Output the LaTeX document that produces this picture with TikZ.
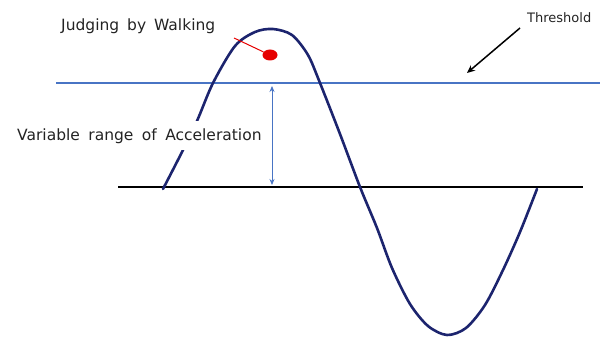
\documentclass[tikz,border=0pt]{standalone}
\usepackage{fontspec}
\setmainfont{DejaVu Sans}
\usetikzlibrary{arrows.meta,shapes.geometric}
\definecolor{navy}{RGB}{28,36,110}
\definecolor{thblue}{RGB}{72,116,196}
\definecolor{dotred}{RGB}{230,0,0}
\definecolor{txt}{RGB}{35,35,35}
\tikzset{
  lbl/.style={inner sep=0pt, text=txt, font=\fontsize{15.5}{18}\selectfont, anchor=base west},
  wave/.style={navy, line width=2.6pt, line cap=round},
}
\begin{document}
\begin{tikzpicture}[x=1pt,y=-1pt]
\useasboundingbox (0,0) rectangle (600,337);
% threshold and baseline
\coordinate (thL) at (56,83);
\coordinate (thR) at (600,83);
\coordinate (bsL) at (118,187);
\coordinate (bsR) at (583,187);
\draw[thblue, line width=1.5pt] (thL) -- (thR);
\draw[black, line width=1.5pt] (bsL) -- (bsR);
% wave
\draw[wave] plot[smooth, tension=0.5] coordinates {
 (163,189) (182,152) (197,121) (213,83) (235,46) (255,32) (273,29) (292,35) (308,55)
 (320,83) (340,134) (360,187) (377,228) (392,268) (410,304) (428,326) (447,335)
 (466,328) (485,305) (503,270) (520,232) (537,189)};
% range label covering the wave
\node[lbl, fill=white, inner xsep=2pt, inner ysep=7pt] (range) at (15,140) {Variable\hspace{3.5pt} range\hspace{3.5pt} of\hspace{3.5pt} Acceleration};
% range arrow
\coordinate (rt) at (272,86);
\coordinate (rb) at (272,185);
\draw[thblue, line width=0.8pt, {Stealth[length=6pt,width=5pt]}-{Stealth[length=6pt,width=5pt]}] (rt) -- (rb);
% walking dot
\node[ellipse, fill=dotred, minimum width=15pt, minimum height=11pt, inner sep=0pt] (dot) at (270,55) {};
\coordinate (dl) at (234,38);
\draw[dotred, line width=1pt] (dl) -- (dot);
\node[lbl] (judge) at (61,31) {Judging\hspace{3pt} by\hspace{3pt} Walking};
% threshold label
\node[lbl, font=\fontsize{13}{15}\selectfont] (thr) at (527,23) {Threshold};
\coordinate (ta) at (520,28);
\coordinate (tb) at (467,73);
\draw[black, line width=1.5pt, -{Stealth[length=8pt,width=7pt]}] (ta) -- (tb);
\end{tikzpicture}
\end{document}
